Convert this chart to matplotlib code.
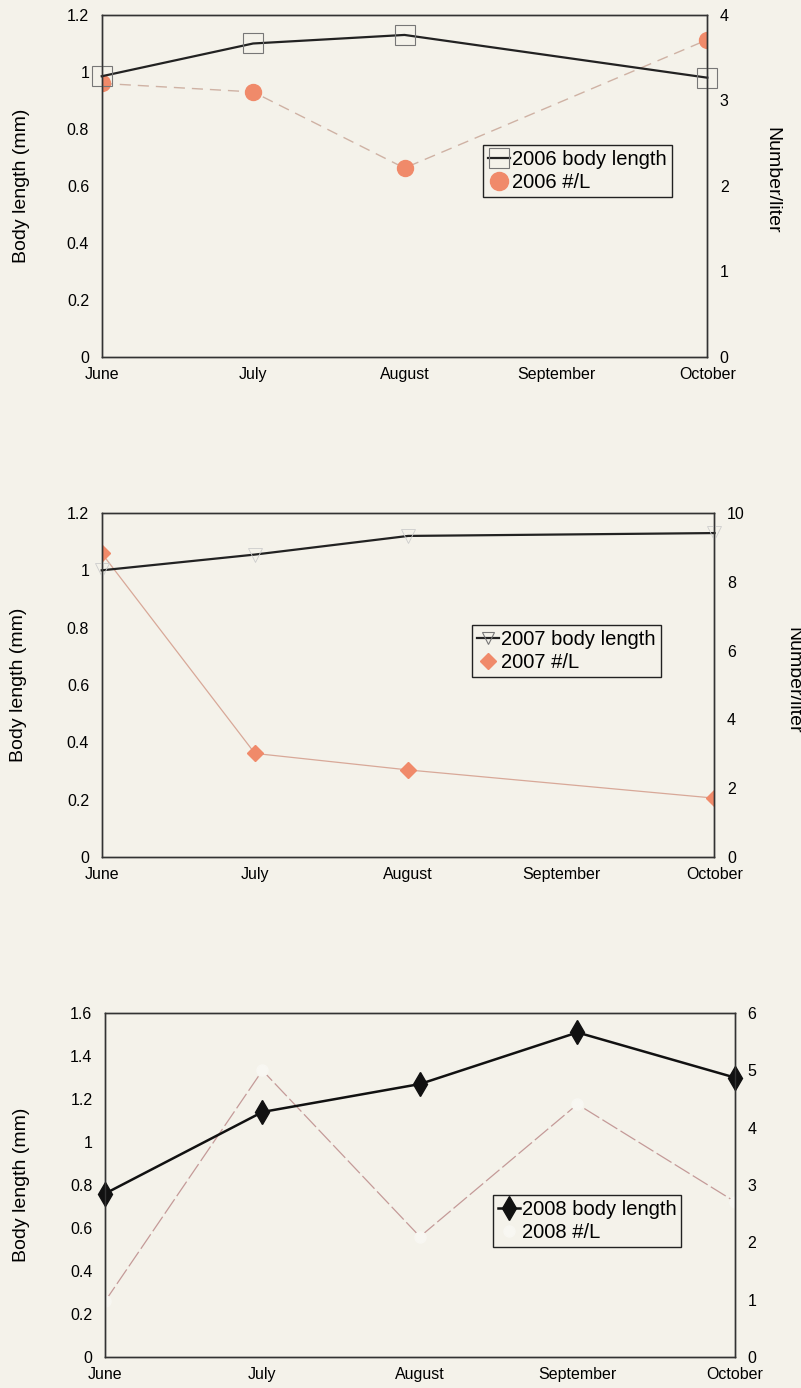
import matplotlib
matplotlib.use("Agg")
from matplotlib import pyplot as plt
from matplotlib.lines import Line2D

plt.rcParams['font.family'] = ['Liberation Sans', 'DejaVu Sans']

months = ['June', 'July', 'August', 'September', 'October']

# 2006 (no September sample)
x_2006 = [0, 1, 2, 4]
length_2006 = [0.985, 1.10, 1.13, 0.98]
count_2006 = [3.20, 3.10, 2.21, 3.71]

# 2007 (no September sample)
x_2007 = [0, 1, 2, 4]
length_2007 = [1.00, 1.055, 1.12, 1.13]
count_2007 = [8.83, 3.01, 2.53, 1.71]

# 2008
x_2008 = [0, 1, 2, 3, 4]
length_2008 = [0.76, 1.14, 1.27, 1.51, 1.30]
count_2008 = [0.97, 5.0, 2.10, 4.41, 2.71]

bg = '#f4f2ea'
salmon = '#f08a6a'

fig = plt.figure(figsize=(8.01, 13.88), dpi=100, facecolor=bg)


def setup(ax, ax2, ymax, ystep, rmax, rstep, label_x):
    ax.set_facecolor(bg)
    ax.set_xlim(0, 4)
    ax.set_ylim(0, ymax)
    ax2.set_ylim(0, rmax)
    n = int(round(ymax / ystep))
    ticks = [round(i * ystep, 1) for i in range(n + 1)]
    ax.set_yticks(ticks)
    ax.set_yticklabels(['%g' % t for t in ticks])
    ax2.set_yticks(list(range(0, rmax + 1, rstep)))
    ax.set_xticks(range(5))
    ax.set_xticklabels(months)
    for a in (ax, ax2):
        a.tick_params(length=0, labelsize=11.5, pad=9)
        for s in a.spines.values():
            s.set_linewidth(1.0)
            s.set_color('#333333')
    ax.tick_params(axis='x', pad=7)
    ax.set_ylabel('Body length (mm)', fontsize=14)
    # label's right edge in figure pixels -> axes fraction
    x0 = ax.get_position().x0 * 801
    w = ax.get_position().width * 801
    ax.yaxis.set_label_coords((label_x - x0) / w, 0.5)


def legend(ax, handles, labels, bbox):
    leg = ax.legend(handles, labels, loc='upper left', bbox_to_anchor=bbox,
                    bbox_transform=fig.transFigure, frameon=True, fancybox=False,
                    fontsize=14.5, handlelength=1.1, handletextpad=0.1,
                    borderpad=0.25, labelspacing=0.2, borderaxespad=0)
    leg.get_frame().set_edgecolor('#222222')
    leg.get_frame().set_facecolor(bg)
    leg.get_frame().set_linewidth(1.0)
    leg.get_frame().set_alpha(1)


# ---- panel 1: 2006
ax1 = fig.add_axes([0.127, 0.7428, 0.756, 0.2464])
ax1b = ax1.twinx()
setup(ax1, ax1b, 1.2, 0.2, 4, 1, 30)
ax1b.plot(x_2006, count_2006, color='#cfb2a4', lw=1.0, ls=(0, (8, 5)),
          marker='o', ms=11.5, mfc=salmon, mec=salmon, zorder=2)
ax1.set_zorder(ax1b.get_zorder() + 1)
ax1.patch.set_visible(False)
ax1.plot(x_2006, length_2006, color='#222222', lw=1.6, marker='s', ms=15,
         mfc='none', mec='#777777', mew=0.8, clip_on=False)
h1 = [Line2D([], [], color='#222222', lw=1.6, marker='s', ms=14, mfc='none', mec='#777777', mew=0.8),
      Line2D([], [], ls='none', marker='o', ms=13, mfc=salmon, mec=salmon)]
legend(ax1, h1, ['2006 body length', '2006 #/L'], (0.603, 1 - 145 / 1388))
fig.text(0.964, 0.87, 'Number/liter', rotation=270, ha='center', va='center', fontsize=14)

# ---- panel 2: 2007
ax2 = fig.add_axes([0.127, 0.3826, 0.765, 0.2478])
ax2b = ax2.twinx()
setup(ax2, ax2b, 1.2, 0.2, 10, 2, 27)
ax2b.plot(x_2007, count_2007, color='#d8a898', lw=0.9,
          marker='D', ms=8, mfc=salmon, mec=salmon, zorder=2)
ax2.set_zorder(ax2b.get_zorder() + 1)
ax2.patch.set_visible(False)
ax2.plot(x_2007, length_2007, color='#222222', lw=1.6, marker='v', ms=10,
         mfc='none', mec='#cccccc', mew=0.6, clip_on=False)
h2 = [Line2D([], [], color='#222222', lw=1.6, marker='v', ms=9, mfc='none', mec='#777777', mew=0.8),
      Line2D([], [], ls='none', marker='D', ms=8, mfc=salmon, mec=salmon)]
legend(ax2, h2, ['2007 body length', '2007 #/L'], (0.589, 1 - 625 / 1388))
fig.text(0.99, 0.51, 'Number/liter', rotation=270, ha='center', va='center', fontsize=14)

# ---- panel 3: 2008
ax3 = fig.add_axes([0.131, 0.0223, 0.7865, 0.2478])
ax3b = ax3.twinx()
setup(ax3, ax3b, 1.6, 0.2, 6, 1, 30)
ax3b.plot(x_2008, count_2008, color='#c49a98', lw=0.9, ls=(0, (14, 3)),
          marker='o', ms=8, mfc='#f8f7f2', mec='#f8f7f2', zorder=2)
ax3.set_zorder(ax3b.get_zorder() + 1)
ax3.patch.set_visible(False)
ax3.plot(x_2008, length_2008, color='#111111', lw=1.8, marker='d', ms=12,
         mfc='#111111', mec='#111111', clip_on=False)
h3 = [Line2D([], [], color='#111111', lw=1.8, marker='d', ms=12, mfc='#111111', mec='#111111'),
      Line2D([], [], ls='none', marker='o', ms=8, mfc='#f8f7f2', mec='#f8f7f2')]
legend(ax3, h3, ['2008 body length', '2008 #/L'], (0.615, 1 - 1195 / 1388))
fig.text(1.003, 0.152, 'Number/liter', rotation=270, ha='center', va='center', fontsize=14)

fig.savefig('out.png', dpi=100, facecolor=bg)
